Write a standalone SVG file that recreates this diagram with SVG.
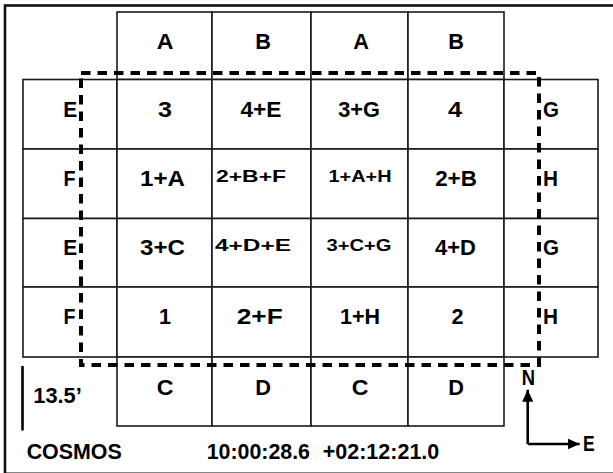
<svg xmlns="http://www.w3.org/2000/svg" width="613" height="473" viewBox="0 0 613 473">
<style>
.cell{fill:#fff;stroke:#1a1a1a;stroke-width:1.6}
.t{font-family:"Liberation Sans",Arial,sans-serif;font-weight:bold;fill:#000;text-anchor:middle;font-size:22px}
.s{font-size:17px}
.l{text-anchor:start}
.e{text-anchor:end}
.dash{fill:none;stroke:#000;stroke-width:4;stroke-dasharray:9.5 7}
</style>
<defs>
<marker id="ah" viewBox="0 0 12 11" refX="12" refY="5.5" markerWidth="12" markerHeight="11" markerUnits="userSpaceOnUse" orient="auto">
<path d="M0,0 L12,5.5 L0,11 z" fill="#000"/>
</marker>
</defs>
<rect x="5" y="5.5" width="620" height="468.3" fill="#fff" stroke="#111" stroke-width="2.6"/>
<g id="row-top">
<rect class="cell" x="117" y="12" width="95" height="67.5"/>
<rect class="cell" x="212" y="12" width="99" height="67.5"/>
<rect class="cell" x="311" y="12" width="97" height="67.5"/>
<rect class="cell" x="408" y="12" width="96" height="67.5"/>
<text class="t" x="165" y="48.5" textLength="16.7" lengthAdjust="spacingAndGlyphs">A</text>
<text class="t" x="263" y="48.5" textLength="15.7" lengthAdjust="spacingAndGlyphs">B</text>
<text class="t" x="361" y="48.5" textLength="15.7" lengthAdjust="spacingAndGlyphs">A</text>
<text class="t" x="456" y="48.5" textLength="15.7" lengthAdjust="spacingAndGlyphs">B</text>
</g>
<g id="row-1">
<rect class="cell" x="23" y="79.5" width="94" height="69.5"/>
<rect class="cell" x="117" y="79.5" width="95" height="69.5"/>
<rect class="cell" x="212" y="79.5" width="99" height="69.5"/>
<rect class="cell" x="311" y="79.5" width="97" height="69.5"/>
<rect class="cell" x="408" y="79.5" width="96" height="69.5"/>
<rect class="cell" x="504" y="79.5" width="94" height="69.5"/>
<text class="t e" x="77.3" y="117" textLength="14" lengthAdjust="spacingAndGlyphs">E</text>
<text class="t" x="165" y="117" textLength="14" lengthAdjust="spacingAndGlyphs">3</text>
<text class="t" x="261" y="117" textLength="41" lengthAdjust="spacingAndGlyphs">4+E</text>
<text class="t" x="359" y="117" textLength="41.7" lengthAdjust="spacingAndGlyphs">3+G</text>
<text class="t" x="455" y="117" textLength="14" lengthAdjust="spacingAndGlyphs">4</text>
<text class="t l" x="543" y="117" textLength="16" lengthAdjust="spacingAndGlyphs">G</text>
</g>
<g id="row-2">
<rect class="cell" x="23" y="149" width="94" height="69.5"/>
<rect class="cell" x="117" y="149" width="95" height="69.5"/>
<rect class="cell" x="212" y="149" width="99" height="69.5"/>
<rect class="cell" x="311" y="149" width="97" height="69.5"/>
<rect class="cell" x="408" y="149" width="96" height="69.5"/>
<rect class="cell" x="504" y="149" width="94" height="69.5"/>
<text class="t e" x="75.5" y="186" textLength="12" lengthAdjust="spacingAndGlyphs">F</text>
<text class="t" x="162.5" y="186" textLength="45" lengthAdjust="spacingAndGlyphs">1+A</text>
<text class="t s" x="251" y="182" textLength="70" lengthAdjust="spacingAndGlyphs">2+B+F</text>
<text class="t s" x="360" y="182" textLength="63" lengthAdjust="spacingAndGlyphs">1+A+H</text>
<text class="t" x="456" y="186" textLength="41.7" lengthAdjust="spacingAndGlyphs">2+B</text>
<text class="t l" x="543" y="186" textLength="15" lengthAdjust="spacingAndGlyphs">H</text>
</g>
<g id="row-3">
<rect class="cell" x="23" y="218.5" width="94" height="68.5"/>
<rect class="cell" x="117" y="218.5" width="95" height="68.5"/>
<rect class="cell" x="212" y="218.5" width="99" height="68.5"/>
<rect class="cell" x="311" y="218.5" width="97" height="68.5"/>
<rect class="cell" x="408" y="218.5" width="96" height="68.5"/>
<rect class="cell" x="504" y="218.5" width="94" height="68.5"/>
<text class="t e" x="77.3" y="255" textLength="14" lengthAdjust="spacingAndGlyphs">E</text>
<text class="t" x="162.5" y="255" textLength="45" lengthAdjust="spacingAndGlyphs">3+C</text>
<text class="t s" x="253" y="251" textLength="76" lengthAdjust="spacingAndGlyphs">4+D+E</text>
<text class="t s" x="359" y="251" textLength="65" lengthAdjust="spacingAndGlyphs">3+C+G</text>
<text class="t" x="455.5" y="255" textLength="41" lengthAdjust="spacingAndGlyphs">4+D</text>
<text class="t l" x="543" y="255" textLength="16" lengthAdjust="spacingAndGlyphs">G</text>
</g>
<g id="row-4">
<rect class="cell" x="23" y="287" width="94" height="70"/>
<rect class="cell" x="117" y="287" width="95" height="70"/>
<rect class="cell" x="212" y="287" width="99" height="70"/>
<rect class="cell" x="311" y="287" width="97" height="70"/>
<rect class="cell" x="408" y="287" width="96" height="70"/>
<rect class="cell" x="504" y="287" width="94" height="70"/>
<text class="t e" x="75.5" y="324" textLength="12" lengthAdjust="spacingAndGlyphs">F</text>
<text class="t" x="165" y="324" textLength="12" lengthAdjust="spacingAndGlyphs">1</text>
<text class="t" x="259.7" y="324" textLength="46" lengthAdjust="spacingAndGlyphs">2+F</text>
<text class="t" x="360" y="324" textLength="40" lengthAdjust="spacingAndGlyphs">1+H</text>
<text class="t" x="457.5" y="324" textLength="12" lengthAdjust="spacingAndGlyphs">2</text>
<text class="t l" x="543" y="324" textLength="15" lengthAdjust="spacingAndGlyphs">H</text>
</g>
<g id="row-bottom">
<rect class="cell" x="117" y="357" width="95" height="69"/>
<rect class="cell" x="212" y="357" width="99" height="69"/>
<rect class="cell" x="311" y="357" width="97" height="69"/>
<rect class="cell" x="408" y="357" width="96" height="69"/>
<text class="t" x="165" y="395" textLength="16.7" lengthAdjust="spacingAndGlyphs">C</text>
<text class="t" x="263" y="395" textLength="15.7" lengthAdjust="spacingAndGlyphs">D</text>
<text class="t" x="360" y="395" textLength="16.7" lengthAdjust="spacingAndGlyphs">C</text>
<text class="t" x="456" y="395" textLength="15.7" lengthAdjust="spacingAndGlyphs">D</text>
</g>
<g id="connectors">
<rect class="dash" x="81" y="73" width="458" height="292"/>
<line x1="527.7" y1="444" x2="527.7" y2="389.7" stroke="#000" stroke-width="2.6" marker-end="url(#ah)"/>
<polyline points="527.7,444 579.7,444" fill="none" stroke="#000" stroke-width="2.6" marker-end="url(#ah)"/>
</g>
<g id="scale">
<line x1="22.5" y1="366" x2="22.5" y2="430.5" stroke="#000" stroke-width="2.6"/>
<text class="t l" x="33.3" y="403" font-size="19" textLength="48.4" lengthAdjust="spacingAndGlyphs">13.5’</text>
</g>
<g id="labels">
<text class="t" x="528.3" y="385" font-size="18.6" textLength="13.3" lengthAdjust="spacingAndGlyphs">N</text>
<text class="t l" x="583" y="451.3" font-size="18.6" textLength="11.7" lengthAdjust="spacingAndGlyphs">E</text>
<text class="t l" x="26.7" y="459" font-size="18.6" textLength="95" lengthAdjust="spacingAndGlyphs">COSMOS</text>
<text class="t l" x="206.7" y="459" font-size="18.6" textLength="103.3" lengthAdjust="spacingAndGlyphs">10:00:28.6</text>
<text class="t l" x="322.7" y="459" font-size="18.6" textLength="116.6" lengthAdjust="spacingAndGlyphs">+02:12:21.0</text>
</g>
</svg>
